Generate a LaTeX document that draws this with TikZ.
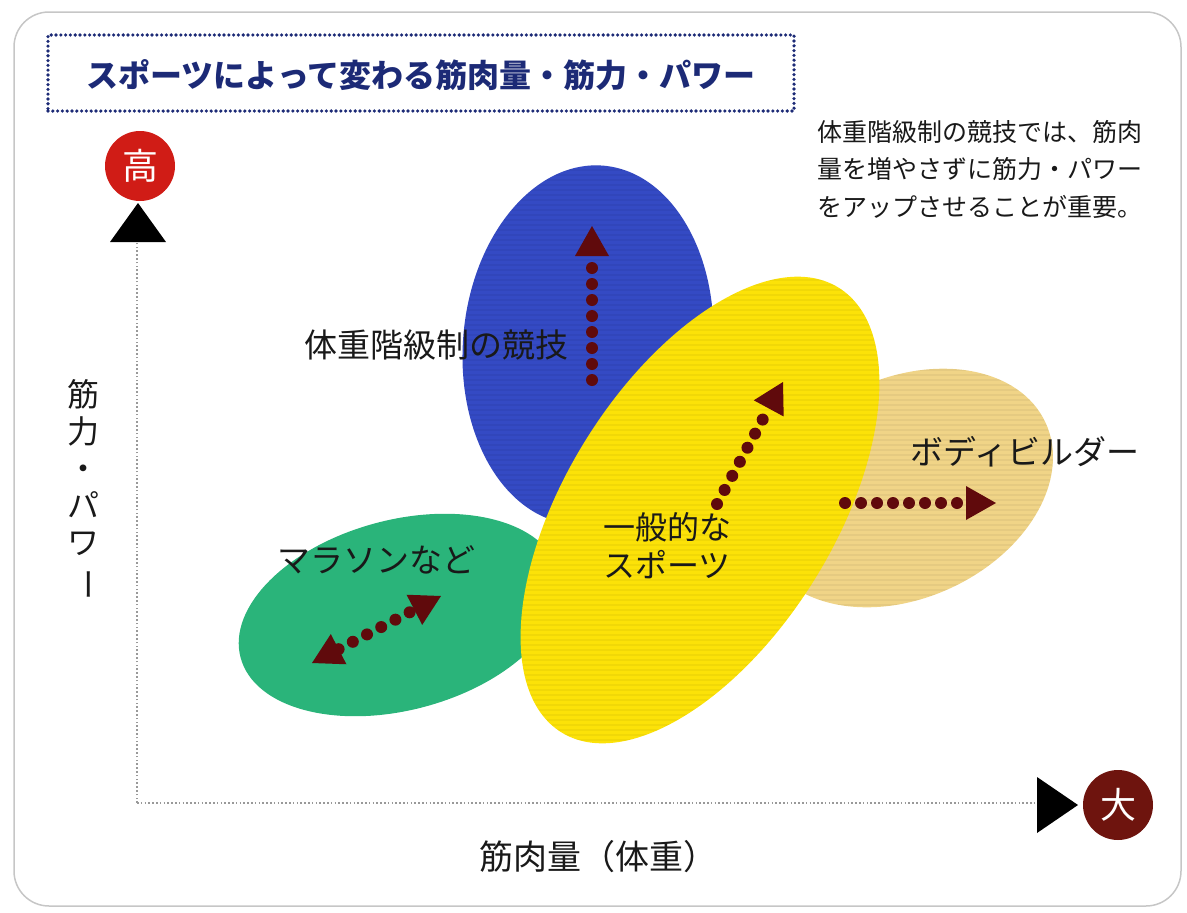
\documentclass[tikz,border=0pt]{standalone}
\usepackage{fontspec}
\newfontfamily\jp{Noto Sans CJK JP}
\usetikzlibrary{arrows.meta,calc}
\definecolor{navy}{RGB}{28,42,118}
\definecolor{blueblob}{RGB}{52,74,196}
\definecolor{greenblob}{RGB}{42,180,122}
\definecolor{tanblob}{RGB}{240,212,135}
\definecolor{yellowblob}{RGB}{252,226,8}
\definecolor{maroon}{RGB}{96,10,12}
\definecolor{hired}{RGB}{208,28,22}
\definecolor{bigred}{RGB}{110,20,14}
\definecolor{txt}{RGB}{25,25,25}
\tikzset{
  blob/.style={draw=none},
  stripes/.style={draw=black, opacity=0.045, line width=1.2pt},
  dotarrow/.style={draw=maroon, line width=12pt, dash pattern=on 0pt off 16pt, line cap=round},
  headtip/.style={-{Triangle[length=30pt,width=34pt,line width=0pt]}},
  lbl/.style={font=\jp\fontsize{33}{38}\selectfont, text=txt, inner sep=0pt},
  axisline/.style={draw=gray!80, line width=1.6pt, dash pattern=on 1.6pt off 2.2pt},
  badge/.style={circle, minimum size=70pt, inner sep=0pt, text=white, font=\jp\fontsize{36}{40}\selectfont}
}
\begin{document}
\begin{tikzpicture}[x=1pt,y=-1pt]
\useasboundingbox (0,0) rectangle (1187,913);
% frame
\draw[gray!45, line width=1.5pt, rounded corners=35pt] (14,12) rectangle (1181,906);
% title
\node[draw=navy, line width=3.6pt, dash pattern=on 0pt off 4.8pt, line cap=round, minimum width=746pt, minimum height=76pt, inner sep=0pt] (titlebox) at (421,73) {};
\node[font=\jp\bfseries\fontsize{32}{36}\selectfont, text=navy] (title) at (421,75) {スポーツによって変わる筋肉量・筋力・パワー};
% note
\node[anchor=north west, align=left, inner sep=0pt, text=txt, font=\jp\fontsize{25}{37.5}\selectfont] (note) at (817,120)
  {体重階級制の競技では、筋肉\\量を増やさずに筋力・パワー\\をアップさせることが重要。};
% ellipses
\fill[blob, blueblob, rotate around={-5:(588,345)}] (588,345) ellipse [x radius=125, y radius=180];
\begin{scope}
  \clip[rotate around={-5:(588,345)}] (588,345) ellipse [x radius=125, y radius=180];
  \foreach \yy in {160,165,...,530} {\draw[stripes] (450,\yy) -- (730,\yy);}
\end{scope}
\fill[blob, greenblob, rotate around={15:(400,615)}] (400,615) ellipse [x radius=165, y radius=95];
\fill[blob, tanblob, rotate around={25:(905,488)}] (905,488) ellipse [x radius=155, y radius=110];
\begin{scope}
  \clip[rotate around={25:(905,488)}] (905,488) ellipse [x radius=155, y radius=110];
  \foreach \yy in {360,365,...,620} {\draw[stripes] (740,\yy) -- (1070,\yy);}
\end{scope}
\fill[blob, yellowblob, rotate around={58:(700,510)}] (700,510) ellipse [x radius=262, y radius=134];
\begin{scope}
  \clip[rotate around={58:(700,510)}] (700,510) ellipse [x radius=262, y radius=134];
  \foreach \yy in {280,285,...,745} {\draw[stripes] (500,\yy) -- (900,\yy);}
\end{scope}
% axes
\coordinate (origin) at (137,803);
\coordinate (ytop) at (137,242);
\coordinate (xend) at (1037,803);
\draw[axisline] (origin) -- (ytop);
\draw[axisline] (origin) -- (xend);
\fill[black] (110,242) -- (138,203) -- (166,242) -- cycle;
\fill[black] (1037,777) -- (1078,805) -- (1037,833) -- cycle;
\node[badge, fill=hired] (high) at (140,166) {高};
\node[badge, fill=bigred] (large) at (1118,805) {大};
% axis labels
\node[align=center, inner sep=0pt, text=txt, font=\jp\fontsize{32}{37}\selectfont] (ylabel) at (83,490)
  {筋\\力\\・\\パ\\ワ\\\rotatebox[origin=c]{-90}{ー}};
\node[lbl, font=\jp\fontsize{34}{38}\selectfont] (xlabel) at (598,857) {筋肉量（体重）};
% labels
\node[lbl] (weight) at (436,345) {体重階級制の競技};
\node[lbl] (marathon) at (376,560) {マラソンなど};
\node[lbl, align=left, anchor=north west, font=\jp\fontsize{32}{38}\selectfont] (general) at (603,512) {一般的な\\スポーツ};
\node[lbl] (body) at (1025,452) {ボディビルダー};
% arrows
\coordinate (b1) at (592,380); \coordinate (b2) at (592,226);
\draw[dotarrow, headtip] (b1) -- (b2);
\coordinate (g1) at (717,504); \coordinate (g2) at (783,382);
\draw[dotarrow, headtip] (g1) -- (g2);
\coordinate (t1) at (845,503); \coordinate (t2) at (996,503);
\draw[dotarrow, headtip] (t1) -- (t2);
\coordinate (m1) at (312,663); \coordinate (m2) at (441,596);
\draw[dotarrow, {Triangle[length=30pt,width=34pt,line width=0pt]}-{Triangle[length=30pt,width=34pt,line width=0pt]}] (m1) -- (m2);
\end{tikzpicture}
\end{document}
